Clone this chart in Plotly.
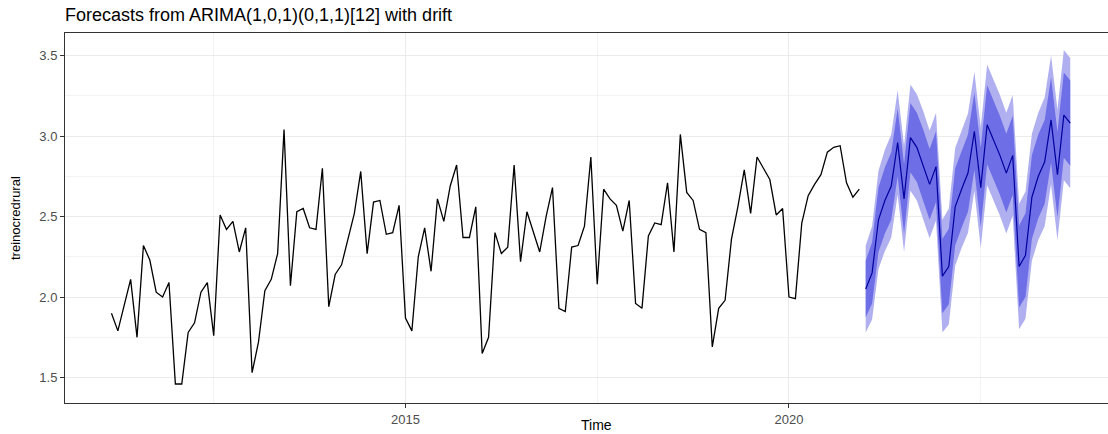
import plotly.graph_objects as go

# ---- data ----
start_year = 2011
start_month = 3          # March
freq = 12

observed = [1.90, 1.79, 1.95, 2.11, 1.75, 2.32, 2.23, 2.03, 2.00, 2.09,
            1.46, 1.46, 1.78, 1.84, 2.03, 2.09, 1.76, 2.51, 2.42, 2.47,
            2.28, 2.43, 1.53, 1.72, 2.04, 2.11, 2.27, 3.04, 2.07, 2.53,
            2.55, 2.43, 2.42, 2.80, 1.94, 2.14, 2.20, 2.36, 2.52, 2.78,
            2.27, 2.59, 2.60, 2.39, 2.40, 2.57, 1.87, 1.79, 2.25, 2.43,
            2.16, 2.61, 2.47, 2.69, 2.82, 2.37, 2.37, 2.56, 1.65, 1.75,
            2.40, 2.27, 2.31, 2.82, 2.22, 2.53, 2.41, 2.28, 2.50, 2.68,
            1.93, 1.91, 2.31, 2.32, 2.44, 2.87, 2.08, 2.67, 2.61, 2.57,
            2.41, 2.60, 1.96, 1.93, 2.38, 2.46, 2.45, 2.71, 2.28, 3.01,
            2.65, 2.60, 2.42, 2.40, 1.69, 1.93, 1.98, 2.36, 2.56, 2.79,
            2.52, 2.87, 2.80, 2.73, 2.51, 2.55, 2.00, 1.99, 2.46, 2.63,
            2.70, 2.76, 2.90, 2.93, 2.94, 2.71, 2.62, 2.67]

fc_start_year = 2021
fc_start_month = 1
fc_mean = [2.05, 2.15, 2.48, 2.60, 2.69, 2.96, 2.61, 2.99, 2.93, 2.82, 2.70, 2.81,
           2.13, 2.19, 2.56, 2.67, 2.77, 3.03, 2.68, 3.07, 2.98, 2.88, 2.77, 2.88,
           2.19, 2.26, 2.62, 2.75, 2.84, 3.10, 2.76, 3.13, 3.08]
hw80 = [0.175, 0.19, 0.20, 0.205, 0.21, 0.21, 0.215, 0.215, 0.215, 0.22, 0.22, 0.22,
        0.23, 0.235, 0.24, 0.24, 0.24, 0.24, 0.245, 0.245, 0.245, 0.245, 0.245, 0.245,
        0.255, 0.26, 0.26, 0.26, 0.26, 0.265, 0.265, 0.265, 0.265]
hw95 = [0.27, 0.29, 0.305, 0.315, 0.32, 0.325, 0.33, 0.33, 0.33, 0.335, 0.335, 0.335,
        0.35, 0.36, 0.365, 0.365, 0.37, 0.37, 0.375, 0.375, 0.375, 0.375, 0.375, 0.375,
        0.39, 0.395, 0.395, 0.395, 0.40, 0.40, 0.405, 0.405, 0.405]

y_ticks = [1.5, 2.0, 2.5, 3.0, 3.5]
y_tick_labels = ["1.5", "2.0", "2.5", "3.0", "3.5"]
x_ticks = [2015, 2020]
x_tick_labels = ["2015", "2020"]

title_text = "Forecasts from ARIMA(1,0,1)(0,1,1)[12] with drift"
y_title = "treinocredrural"
x_title = "Time"

# ---- time indices (like an R ts object) ----
t_obs = [start_year + (start_month - 1 + i) / freq for i in range(len(observed))]
t_fc = [fc_start_year + (fc_start_month - 1 + j) / freq for j in range(len(fc_mean))]

lo95 = [m - h for m, h in zip(fc_mean, hw95)]
hi95 = [m + h for m, h in zip(fc_mean, hw95)]
lo80 = [m - h for m, h in zip(fc_mean, hw80)]
hi80 = [m + h for m, h in zip(fc_mean, hw80)]

LIGHT = "#B0B0F0"
DARK = "#6E6EE6"
MEANC = "#00009E"

fig = go.Figure()
fig.add_trace(go.Scatter(x=t_fc, y=hi95, mode="lines", line=dict(width=0),
                         showlegend=False, hoverinfo="skip"))
fig.add_trace(go.Scatter(x=t_fc, y=lo95, mode="lines", line=dict(width=0),
                         fill="tonexty", fillcolor=LIGHT, showlegend=False, hoverinfo="skip"))
fig.add_trace(go.Scatter(x=t_fc, y=hi80, mode="lines", line=dict(width=0),
                         showlegend=False, hoverinfo="skip"))
fig.add_trace(go.Scatter(x=t_fc, y=lo80, mode="lines", line=dict(width=0),
                         fill="tonexty", fillcolor=DARK, showlegend=False, hoverinfo="skip"))
fig.add_trace(go.Scatter(x=t_fc, y=fc_mean, mode="lines",
                         line=dict(color=MEANC, width=1.2), showlegend=False))
fig.add_trace(go.Scatter(x=t_obs, y=observed, mode="lines",
                         line=dict(color="black", width=1.3), showlegend=False))

W, H = 1108, 434
L, R, T, B = 65, 0, 33, 31

fig.update_layout(
    width=W, height=H,
    margin=dict(l=L, r=R, t=T, b=B, autoexpand=False),
    paper_bgcolor="white", plot_bgcolor="white",
    font=dict(family="Liberation Sans, Arial, sans-serif", color="black"),
    title=dict(text=title_text, x=L / W, xanchor="left", xref="container",
               y=1 - 15 / H, yanchor="middle", yref="container",
               font=dict(size=18, color="black"), automargin=False),
)

fig.update_xaxes(
    range=[2010.561, 2024.159], automargin=False,
    tickmode="array", tickvals=x_ticks, ticktext=x_tick_labels,
    showgrid=True, gridcolor="#EBEBEB", gridwidth=1.1,
    minor=dict(tickmode="array", tickvals=[2012.5, 2017.5, 2022.5], showgrid=True,
               gridcolor="#F3F3F3", gridwidth=0.6, ticks=""),
    showline=True, linecolor="#333333", linewidth=1, mirror=True,
    ticks="outside", ticklen=4, tickcolor="#333333", tickwidth=1,
    tickfont=dict(size=13, color="#4D4D4D"), zeroline=False,
)
fig.update_yaxes(
    range=[1.342, 3.640], automargin=False,
    tickmode="array", tickvals=y_ticks, ticktext=y_tick_labels,
    showgrid=True, gridcolor="#EBEBEB", gridwidth=1.1,
    minor=dict(tickmode="array", tickvals=[1.75, 2.25, 2.75, 3.25], showgrid=True,
               gridcolor="#F3F3F3", gridwidth=0.6, ticks=""),
    showline=True, linecolor="#333333", linewidth=1, mirror=False,
    ticks="outside", ticklen=4, tickcolor="#333333", tickwidth=1,
    tickfont=dict(size=13, color="#4D4D4D"), zeroline=False,
)

pw = W - L - R
ph = H - T - B
fig.add_annotation(text=y_title, textangle=-90, xref="paper", yref="paper",
                   x=(15 - L) / pw, y=0.5, xanchor="center", yanchor="middle",
                   showarrow=False, font=dict(size=13, color="black"))
fig.add_annotation(text=x_title, xref="paper", yref="paper",
                   x=(596 - L) / pw, y=-(425 - (H - B)) / ph, xanchor="center", yanchor="middle",
                   showarrow=False, font=dict(size=14, color="black"))

fig.write_html(
    "out.html",
    config={"displayModeBar": False},
    post_script="document.body.style.margin='0px';document.body.style.padding='0px';"
                "document.body.style.overflow='hidden';",
)
